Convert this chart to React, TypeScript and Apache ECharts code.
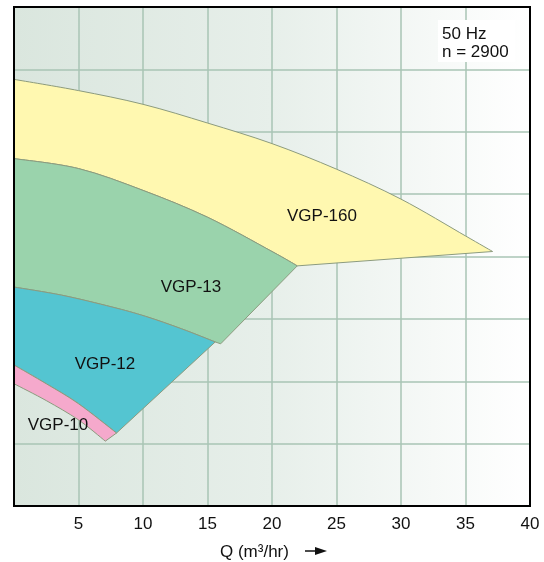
import React, { useEffect, useRef } from "react";
import * as echarts from "echarts";

// Q axis (m3/hr) and head grid (8 equal, unlabelled divisions)
const xTickLabels = ["", "5", "10", "15", "20", "25", "30", "35", "40"];
const headMax = 8;

// Envelope outlines: [Q, head-grid units]
const yellowTop = [[0, 6.84], [5, 6.66], [10, 6.44], [15, 6.14], [20, 5.81], [25, 5.4], [30, 4.92], [35, 4.33], [37.1, 4.08]];
const greenTop = [[0, 5.57], [5, 5.41], [10, 5.06], [15, 4.63], [20, 4.08], [21.96, 3.85]];
const greenCorner = [16.02, 2.6];
const blueTop = [[0, 3.51], [3.7, 3.38], [7.6, 3.19], [10.2, 3.04], [13, 2.84], [15.6, 2.63]];
const pinkTop = [[0, 2.26], [2.5, 1.96], [5, 1.64], [7.95, 1.17]];
const pinkBottom = [[0, 1.96], [2.5, 1.69], [5, 1.38], [7.08, 1.04]];

const modelNames = ["VGP-160", "VGP-13", "VGP-12", "VGP-10"];

const FONT = "Liberation Sans, Arial, Helvetica, sans-serif";

function fmt(p: number[]) {
  return p[0].toFixed(2) + "," + p[1].toFixed(2);
}

function curve(pts: number[][], start: "M" | "L") {
  let d = start + fmt(pts[0]);
  for (let i = 0; i < pts.length - 1; i++) {
    const p0 = pts[i - 1] || pts[i];
    const p1 = pts[i];
    const p2 = pts[i + 1];
    const p3 = pts[i + 2] || p2;
    const c1 = [p1[0] + (p2[0] - p0[0]) / 6, p1[1] + (p2[1] - p0[1]) / 6];
    const c2 = [p2[0] - (p3[0] - p1[0]) / 6, p2[1] - (p3[1] - p1[1]) / 6];
    d += " C" + fmt(c1) + " " + fmt(c2) + " " + fmt(p2);
  }
  return d;
}

type Piece = { kind: "curve"; pts: number[][] } | { kind: "line"; pt: number[] };

function regionSeries(pieces: Piece[], fill: string) {
  return {
    type: "custom",
    silent: true,
    z: 2,
    data: [[0, 0]],
    renderItem: (_params: any, api: any) => {
      let d = "";
      pieces.forEach((pc, idx) => {
        if (pc.kind === "curve") {
          const px = pc.pts.map((p) => api.coord(p));
          d += (idx === 0 ? "" : " ") + curve(px, idx === 0 ? "M" : "L");
        } else {
          d += " L" + fmt(api.coord(pc.pt));
        }
      });
      d += " Z";
      return {
        type: "path",
        shape: { pathData: d },
        style: { fill, stroke: "#8c9b7e", lineWidth: 1 },
      };
    },
  };
}

const rev = (a: number[][]) => a.slice().reverse();

export default function App() {
  const ref = useRef<HTMLDivElement>(null);
  useEffect(() => {
    if (!ref.current) return;
    const chart = echarts.init(ref.current, null, { renderer: "svg" });
    const label = (text: string, x: number, y: number) => ({
      type: "text",
      x,
      y,
      z: 10,
      style: { text, fill: "#111", font: "17px " + FONT, textAlign: "center", textVerticalAlign: "middle" },
    });
    chart.setOption({
      animation: false,
      grid: {
        left: 14,
        right: 14,
        top: 7,
        bottom: 56,
        show: true,
        borderWidth: 0,
        backgroundColor: new echarts.graphic.LinearGradient(0, 0, 1, 0, [
          { offset: 0, color: "#dae6de" },
          { offset: 0.5, color: "#e7efea" },
          { offset: 1, color: "#ffffff" },
        ]),
      },
      xAxis: {
        type: "value",
        min: 0,
        max: 40,
        interval: 5,
        axisLine: { show: false },
        axisTick: { show: false },
        axisLabel: {
          margin: 9,
          fontSize: 17,
          color: "#111",
          fontFamily: FONT,
          formatter: (v: number) => xTickLabels[Math.round(v / 5)] ?? "",
        },
        splitLine: { show: true, lineStyle: { color: "#a9c5b5", width: 1.5 } },
      },
      yAxis: {
        type: "value",
        min: 0,
        max: headMax,
        interval: 1,
        axisLine: { show: false },
        axisTick: { show: false },
        axisLabel: { show: false },
        splitLine: { show: true, lineStyle: { color: "#a9c5b5", width: 1.5 } },
      },
      series: [
        regionSeries(
          [
            { kind: "curve", pts: yellowTop },
            { kind: "line", pt: greenTop[greenTop.length - 1] },
            { kind: "curve", pts: rev(greenTop) },
          ],
          "#fff8b0"
        ),
        regionSeries(
          [
            { kind: "curve", pts: greenTop },
            { kind: "line", pt: greenCorner },
            { kind: "line", pt: blueTop[blueTop.length - 1] },
            { kind: "curve", pts: rev(blueTop) },
          ],
          "#9ad3ac"
        ),
        regionSeries(
          [
            { kind: "curve", pts: blueTop },
            { kind: "line", pt: pinkTop[pinkTop.length - 1] },
            { kind: "curve", pts: rev(pinkTop) },
          ],
          "#54c5d1"
        ),
        regionSeries(
          [
            { kind: "curve", pts: pinkTop },
            { kind: "line", pt: pinkBottom[pinkBottom.length - 1] },
            { kind: "curve", pts: rev(pinkBottom) },
          ],
          "#f5a9cc"
        ),
      ],
      graphic: [
        {
          type: "rect",
          z: 20,
          silent: true,
          shape: { x: 14, y: 7, width: 516, height: 499 },
          style: { fill: "none", stroke: "#000", lineWidth: 2 },
        },
        label(modelNames[0], 322, 215),
        label(modelNames[1], 191, 286),
        label(modelNames[2], 105, 363),
        label(modelNames[3], 58, 424),
        { type: "rect", z: 10, shape: { x: 438, y: 20, width: 77, height: 42 }, style: { fill: "#ffffff" } },
        {
          type: "text",
          z: 11,
          x: 442,
          y: 33,
          style: { text: "50 Hz", fill: "#111", font: "17px " + FONT, textVerticalAlign: "middle" },
        },
        {
          type: "text",
          z: 11,
          x: 442,
          y: 51,
          style: { text: "n = 2900", fill: "#111", font: "17px " + FONT, textVerticalAlign: "middle" },
        },
        {
          type: "text",
          z: 11,
          x: 220,
          y: 551,
          style: { text: "Q (m³/hr)", fill: "#111", font: "17px " + FONT, textVerticalAlign: "middle" },
        },
        {
          type: "line",
          z: 11,
          shape: { x1: 305, y1: 551, x2: 318, y2: 551 },
          style: { stroke: "#111", lineWidth: 1.5 },
        },
        {
          type: "polygon",
          z: 11,
          shape: { points: [[315, 547], [327, 551], [315, 555]] },
          style: { fill: "#111" },
        },
      ],
    });
    return () => chart.dispose();
  }, []);
  return <div ref={ref} style={{ position: "fixed", left: 0, top: 0, width: 544, height: 562 }} />;
}
